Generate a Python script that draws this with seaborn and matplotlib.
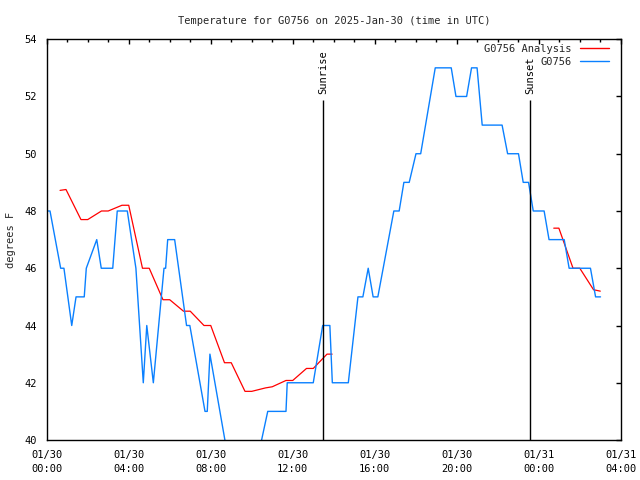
import numpy as np
import pandas as pd
import matplotlib
matplotlib.use("Agg")
import matplotlib.pyplot as plt
import matplotlib.dates as mdates
from matplotlib.lines import Line2D
import seaborn as sns

# ----------------------------
# Dados (horas desde 2025-01-30 00:00 UTC)
# ----------------------------
obs_hours = [0.00, 0.16, 0.68, 0.84, 1.22, 1.43, 1.83, 1.93, 2.44, 2.66, 3.22, 3.44,
             3.93, 4.35, 4.71, 4.88, 5.20, 5.72, 5.80, 5.90, 6.24, 6.82, 6.98, 7.72,
             7.83, 7.96, 8.69, 9.17, 9.83, 10.48, 10.78, 11.67, 11.73, 13.00, 13.46,
             13.81, 13.93, 14.71, 15.18, 15.42, 15.68, 15.92, 16.15, 16.93, 17.19,
             17.42, 17.68, 18.01, 18.24, 18.95, 19.73, 19.96, 20.48, 20.72, 20.99,
             21.24, 22.21, 22.48, 23.01, 23.24, 23.50, 23.73, 24.26, 24.50, 25.24,
             25.48, 26.52, 26.77, 27.01]
obs_temp = [48, 48, 46, 46, 44, 45, 45, 46, 47, 46, 46, 48,
            48, 46, 42, 44, 42, 46, 46, 47, 47, 44, 44, 41,
            41, 43, 40, 38, 38, 40, 41, 41, 42, 42, 44,
            44, 42, 42, 45, 45, 46, 45, 45, 48, 48,
            49, 49, 50, 50, 53, 53, 52, 52, 53, 53,
            51, 51, 50, 50, 49, 49, 48, 48, 47, 47,
            46, 46, 45, 45]

ana_hours = [0.65, 0.94, 1.67, 2.0, 2.67, 3.0, 3.67, 4.0, 4.67, 5.0, 5.67, 6.0,
             6.67, 7.0, 7.67, 8.0, 8.67, 9.0, 9.67, 10.0, 10.67, 11.0, 11.67, 12.0,
             12.67, 13.0, 13.67, 13.92,
             24.73, 24.98, 25.67, 26.0, 26.67, 27.0]
ana_temp = [48.72, 48.75, 47.7, 47.7, 48.0, 48.0, 48.2, 48.2, 46.0, 46.0, 44.9, 44.9,
            44.5, 44.5, 44.0, 44.0, 42.7, 42.7, 41.7, 41.7, 41.82, 41.86, 42.08, 42.08,
            42.5, 42.5, 43.0, 43.0,
            47.4, 47.4, 46.0, 46.0, 45.25, 45.2]
ana_seg = [0] * 28 + [1] * 6

sun_hours = [13.48, 23.57]
sun_labels = ["Sunrise", "Sunset"]

base = pd.Timestamp("2025-01-30 00:00")
obs = pd.DataFrame({"time": base + pd.to_timedelta(obs_hours, unit="h"), "temp": obs_temp})
ana = pd.DataFrame({"time": base + pd.to_timedelta(ana_hours, unit="h"),
                    "temp": ana_temp, "seg": ana_seg})

# ----------------------------
# Estilo
# ----------------------------
sns.set_style("white")
plt.rcParams["font.family"] = ["DejaVu Sans Mono"]
plt.rcParams["font.size"] = 7.5

red = "#ff0000"
blue = "#0a80ff"

fig = plt.figure(figsize=(6.4, 4.8), dpi=100)
ax = fig.add_axes([0.073, 0.0833, 0.897, 0.835])

# analise (vermelho) em dois trechos, observacao (azul)
sns.lineplot(data=ana, x="time", y="temp", units="seg", estimator=None,
             color=red, lw=0.9, ax=ax)
sns.lineplot(data=obs, x="time", y="temp", color=blue, lw=1.0, ax=ax)

for h, lab in zip(sun_hours, sun_labels):
    t = base + pd.Timedelta(hours=h)
    ax.vlines(t, 40, 51.88, color="black", lw=1.0)
    ax.text(t, 52.1, lab, rotation=90, ha="center", va="bottom", color="black")

ax.set_xlim(base, base + pd.Timedelta(hours=28))
ax.set_ylim(40, 54)
ax.set_yticks(np.arange(40, 55, 2))

ax.xaxis.set_major_locator(mdates.HourLocator(byhour=range(0, 24, 4)))
ax.xaxis.set_minor_locator(mdates.HourLocator())
ax.xaxis.set_major_formatter(mdates.DateFormatter("%m/%d\n%H:%M"))

ax.tick_params(which="both", direction="in", top=True, right=True, width=1.0, colors="black")
ax.tick_params(which="major", length=3.3, pad=7)
ax.tick_params(which="minor", length=1.8)
for s in ax.spines.values():
    s.set_linewidth(1.0)
    s.set_color("black")

ax.set_xlabel("")
ax.set_ylabel("degrees F")
ax.yaxis.set_label_coords(-0.054, 0.5)
ax.set_title("Temperature for G0756 on 2025-Jan-30 (time in UTC)", fontsize=7.5, pad=11)

handles = [Line2D([], [], color=red, lw=1.0), Line2D([], [], color=blue, lw=1.0)]
ax.legend(handles, ["G0756 Analysis", "G0756"], loc="upper right", frameon=False,
          markerfirst=False, handlelength=2.8, handletextpad=0.8,
          labelspacing=0.25, borderaxespad=0.3,
          bbox_to_anchor=(0.993, 1.006))

fig.canvas.draw()
for lbl in ax.get_xticklabels():
    lbl.set_linespacing(1.5)

fig.savefig("out.png", dpi=100)
